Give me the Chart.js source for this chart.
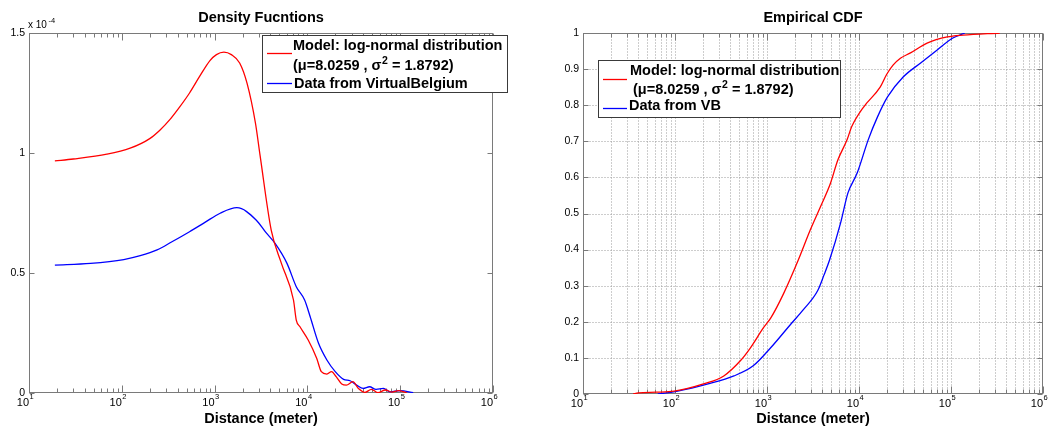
<!DOCTYPE html>
<html>
<head>
<meta charset="utf-8">
<script src="https://cdn.jsdelivr.net/npm/chart.js@4.4.1/dist/chart.umd.min.js"></script>
<style>
  body{margin:0;background:#fff;width:1057px;height:428px;overflow:hidden;position:relative;}
  canvas{position:absolute;top:0;}
  #c1{left:0;} #c2{left:530px;}
</style>
</head>
<body>
<canvas id="c1" width="520" height="428"></canvas>
<canvas id="c2" width="527" height="428"></canvas>

<script>
// ---------- texts ----------
const titleDensity = 'Density Fucntions';
const titleCdf = 'Empirical CDF';
const xAxisTitle = 'Distance (meter)';
const xTickValues = [10, 100, 1000, 10000, 100000, 1000000];
const xTickBase = '10';
const xTickExponents = ['1', '2', '3', '4', '5', '6'];
const yScaleNote = ['x 10', '-4'];
const legendModelLine1 = 'Model: log-normal distribution';
const legendModelLine2 = ['(μ=8.0259 , σ', '2', ' = 1.8792)'];
const legendDataDensity = 'Data from VirtualBelgium';
const legendDataCdf = 'Data from VB';

// ---------- data (distance in meters) ----------
// Density (values in units of 1e-4)
const densityModelDistance = [19, 30, 69, 123, 200, 257, 331, 417, 537, 692, 891, 1047, 1259, 1514, 1862, 2239, 2754, 3090, 4074, 5248, 7079, 7586, 8318, 10233, 12589, 14125, 16218, 18197, 20417, 23442, 26303, 30903, 35481, 41687, 48978, 57544, 69183, 81283, 95499, 117490];
const densityModelValue = [0.967, 0.975, 0.995, 1.02, 1.06, 1.095, 1.14, 1.19, 1.25, 1.32, 1.385, 1.41, 1.42, 1.41, 1.375, 1.29, 1.125, 0.99, 0.679, 0.54, 0.3875, 0.304, 0.276, 0.22, 0.145, 0.089, 0.079, 0.089, 0.068, 0.0375, 0.033, 0.047, 0.019, 0.003, 0.015, 0.001, 0.0125, 0.004, 0.01, 0.001];
const densityDataDistance = [19, 46, 105, 158, 240, 347, 537, 794, 1148, 1738, 2818, 3548, 4467, 6026, 7586, 9333, 10715, 13183, 16218, 19953, 24547, 28840, 33884, 39811, 46774, 54954, 66069, 77625, 100000, 138038];
const densityDataValue = [0.533, 0.54, 0.556, 0.572, 0.596, 0.63, 0.672, 0.712, 0.749, 0.772, 0.72, 0.67, 0.624, 0.54, 0.443, 0.3875, 0.318, 0.207, 0.1375, 0.089, 0.057, 0.051, 0.033, 0.019, 0.026, 0.015, 0.019, 0.005, 0.01, 0.001];
const densityYTicks = [0, 0.5, 1, 1.5];

// Empirical CDF
const cdfModelDistance = [35, 40, 63, 98, 204, 339, 513, 661, 912, 1096, 1514, 2188, 2951, 3802, 4898, 5888, 7413, 8318, 11220, 16982, 19953, 23442, 28184, 36308, 54954, 91201, 134896, 338844];
const cdfModelValue = [0.0, 0.003, 0.005, 0.008, 0.028, 0.05, 0.092, 0.128, 0.183, 0.21, 0.278, 0.371, 0.454, 0.518, 0.584, 0.648, 0.704, 0.74, 0.795, 0.85, 0.885, 0.911, 0.93, 0.945, 0.972, 0.989, 0.994, 1.0];
const cdfDataDistance = [65, 107, 229, 437, 708, 1096, 1820, 2512, 3548, 4169, 4786, 6310, 7586, 9550, 12589, 15849, 20417, 30200, 46774, 70795, 104713, 141254];
const cdfDataValue = [0.0, 0.008, 0.028, 0.05, 0.078, 0.128, 0.194, 0.235, 0.286, 0.33, 0.371, 0.474, 0.557, 0.612, 0.704, 0.767, 0.823, 0.878, 0.917, 0.953, 0.986, 1.0];

// ---------- helpers ----------
const zip = (xs, ys) => xs.map((x, i) => ({x, y: ys[i]}));
const FONT = '"Liberation Sans", Arial, Helvetica, sans-serif';
Chart.defaults.font.family = FONT;
Chart.defaults.color = '#000';

const logTicks = [];
for (let e = 1; e <= 5; e++) for (let m = 1; m <= 9; m++) logTicks.push(m * Math.pow(10, e));
logTicks.push(1000000);

const matlabAxes = {
  id: 'matlabAxes',
  beforeDatasetsDraw(chart, args, opts) {
    const {ctx, chartArea: a, scales: {x, y}} = chart;
    const L = Math.round(a.left) + 0.5, R = Math.round(a.right) - 0.5;
    const T = Math.round(a.top) + 0.5, B = Math.round(a.bottom) - 0.5;
    const seg = (x1, y1, x2, y2) => { ctx.beginPath(); ctx.moveTo(x1, y1); ctx.lineTo(x2, y2); ctx.stroke(); };
    ctx.save();
    if (opts.grid) {
      ctx.strokeStyle = '#9a9a9a';
      ctx.lineWidth = 1;
      ctx.setLineDash([1, 2]);
      x.ticks.forEach(t => {
        const px = Math.round(x.getPixelForValue(t.value)) + 0.5;
        if (px <= L + 1 || px >= R - 1) return;
        seg(px, T, px, B);
      });
      y.ticks.forEach(t => {
        const py = Math.round(y.getPixelForValue(t.value)) + 0.5;
        if (py <= T + 1 || py >= B - 1) return;
        seg(L, py, R, py);
      });
      ctx.setLineDash([]);
    }
    ctx.strokeStyle = '#7a7a7a';
    ctx.lineWidth = 1;
    ctx.strokeRect(L, T, R - L, B - T);
    x.ticks.forEach(t => {
      const px = Math.round(x.getPixelForValue(t.value)) + 0.5;
      const len = xTickValues.includes(t.value) ? 7 : 4;
      seg(px, B, px, B - len);
      seg(px, T, px, T + len);
    });
    y.ticks.forEach(t => {
      const py = Math.round(y.getPixelForValue(t.value)) + 0.5;
      seg(L, py, L + 5, py);
      seg(R, py, R - 5, py);
    });
    ctx.restore();
  },
  afterDraw(chart, args, opts) {
    const {ctx, chartArea: a, scales: {x}} = chart;
    ctx.save();
    ctx.fillStyle = '#000';
    ctx.textBaseline = 'alphabetic';
    ctx.textAlign = 'left';
    // power-of-ten tick labels with raised exponents
    const baseY = Math.round(a.bottom) + 13;
    xTickValues.forEach((v, i) => {
      const px = x.getPixelForValue(v);
      ctx.font = '11px "Liberation Sans Narrow", "Liberation Sans", Arial, sans-serif';
      const w = ctx.measureText(xTickBase).width;
      ctx.fillText(xTickBase, px - w, baseY);
      ctx.font = '7.5px "Liberation Sans", Arial, sans-serif';
      ctx.fillText(xTickExponents[i], px + 0.5, baseY - 7);
    });
    // scale note (x 10^-4)
    if (opts.note) {
      ctx.font = '10px ' + FONT;
      ctx.fillText(yScaleNote[0], opts.note.x, opts.note.y);
      const w = ctx.measureText(yScaleNote[0]).width;
      ctx.font = '7.5px ' + FONT;
      ctx.fillText(yScaleNote[1], opts.note.x + w + 1.5, opts.note.y - 5);
    }
    // legend box
    const lg = opts.legend;
    if (lg) {
      ctx.fillStyle = '#fff';
      ctx.fillRect(lg.box[0], lg.box[1], lg.box[2], lg.box[3]);
      ctx.strokeStyle = '#3a3a3a';
      ctx.lineWidth = 1;
      ctx.strokeRect(lg.box[0] + 0.5, lg.box[1] + 0.5, lg.box[2] - 1, lg.box[3] - 1);
      chart.data.datasets.forEach((ds, i) => {
        const s = lg.samples[i];
        ctx.strokeStyle = ds.borderColor;
        ctx.lineWidth = 1.3;
        ctx.beginPath(); ctx.moveTo(s[0], s[2]); ctx.lineTo(s[1], s[2]); ctx.stroke();
      });
      ctx.fillStyle = '#000';
      ctx.textBaseline = 'alphabetic';
      const bold = 'bold 14.5px ' + FONT;
      const sup = 'bold 10.5px ' + FONT;
      const r = lg.rows;
      ctx.font = bold;
      ctx.fillText(legendModelLine1, r[0][0], r[0][1]);
      let cx = r[1][0];
      ctx.fillText(legendModelLine2[0], cx, r[1][1]);
      cx += ctx.measureText(legendModelLine2[0]).width + 0.5;
      ctx.font = sup;
      ctx.fillText(legendModelLine2[1], cx, r[1][1] - 6);
      cx += ctx.measureText(legendModelLine2[1]).width;
      ctx.font = bold;
      ctx.fillText(legendModelLine2[2], cx, r[1][1]);
      ctx.fillText(lg.dataLabel, r[2][0], r[2][1]);
    }
    ctx.restore();
  }
};

function makeOptions(title, yMin, yMax, yStep, yFmt, yWidth, xHeight, padRight, extra) {
  return {
    responsive: false,
    animation: false,
    devicePixelRatio: 1,
    layout: {padding: {left: 0, right: padRight, top: 0, bottom: 0}},
    elements: {point: {radius: 0}},
    plugins: {
      legend: {display: false},
      tooltip: {enabled: false},
      title: {display: true, text: title, fullSize: false, color: '#000',
        font: {size: 14.5, weight: 'bold', family: FONT}, padding: {top: 9, bottom: 6.6}},
      matlabAxes: extra
    },
    scales: {
      x: {
        type: 'logarithmic', min: 10, max: 1000000,
        grid: {display: false, drawTicks: false},
        border: {display: false},
        afterBuildTicks: s => { s.ticks = logTicks.map(v => ({value: v})); },
        afterFit: s => { s.height = xHeight; },
        ticks: {display: false, autoSkip: false, maxRotation: 0, minRotation: 0},
        title: {display: true, text: xAxisTitle, color: '#000',
          font: {size: 14.5, weight: 'bold', family: FONT}, padding: {top: 0, bottom: 0}}
      },
      y: {
        min: yMin, max: yMax,
        grid: {display: false, drawTicks: false},
        border: {display: false},
        afterFit: s => { s.width = yWidth; },
        ticks: {stepSize: yStep, padding: 4, font: {size: 10.5, family: FONT}, color: '#000', callback: yFmt}
      }
    }
  };
}

new Chart(document.getElementById('c1'), {
  type: 'line',
  data: {
    datasets: [
      {label: legendModelLine1, data: zip(densityModelDistance, densityModelValue),
       borderColor: '#ff0000', borderWidth: 1.3, cubicInterpolationMode: 'monotone', fill: false},
      {label: legendDataDensity, data: zip(densityDataDistance, densityDataValue),
       borderColor: '#0000ff', borderWidth: 1.3, cubicInterpolationMode: 'monotone', fill: false}
    ]
  },
  options: makeOptions(titleDensity, 0, 1.5, 0.5,
    v => { const r = Math.round(v * 10) / 10; return densityYTicks.includes(r) ? String(r) : ''; },
    29, 35, 27,
    {grid: false, note: {x: 28, y: 28},
     legend: {box: [262, 35, 246, 58], samples: [[267, 292, 53.5], [267, 292, 83.5]],
              rows: [[293, 50], [293, 70], [294, 88]], dataLabel: legendDataDensity}}),
  plugins: [matlabAxes]
});

new Chart(document.getElementById('c2'), {
  type: 'line',
  data: {
    datasets: [
      {label: legendModelLine1, data: zip(cdfModelDistance, cdfModelValue),
       borderColor: '#ff0000', borderWidth: 1.3, cubicInterpolationMode: 'monotone', fill: false},
      {label: legendDataCdf, data: zip(cdfDataDistance, cdfDataValue),
       borderColor: '#0000ff', borderWidth: 1.3, cubicInterpolationMode: 'monotone', fill: false}
    ]
  },
  options: makeOptions(titleCdf, 0, 1, 0.1,
    v => { const r = Math.round(v * 10) / 10; return (r === 0 || r === 1) ? String(r) : r.toFixed(1); },
    53, 34, 14,
    {grid: true,
     legend: {box: [68, 60, 243, 58], samples: [[73, 97, 79.5], [73, 97, 108.5]],
              rows: [[100, 75], [103, 94], [99, 110]], dataLabel: legendDataCdf}}),
  plugins: [matlabAxes]
});
</script>
</body>
</html>
